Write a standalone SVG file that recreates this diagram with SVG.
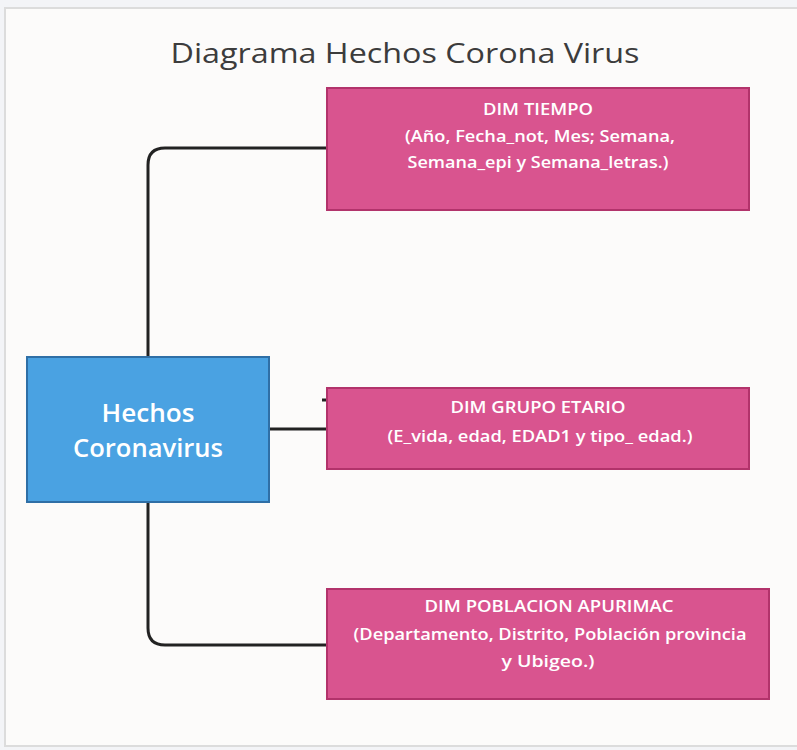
<svg xmlns="http://www.w3.org/2000/svg" width="797" height="750" viewBox="0 0 797 750">
<style>
.dim{fill:#d9548f;stroke:#b2336b;stroke-width:2}
.fact{fill:#4aa2e2;stroke:#2f6fa6;stroke-width:2}
.t{font-family:"Open Sans","Noto Sans",sans-serif;fill:#fff;text-anchor:middle;font-weight:600}
.s{font-size:17px}
.c{fill:none;stroke:#222;stroke-width:3}
</style>
<rect x="0" y="0" width="797" height="750" fill="#f3f4f7"/>
<rect x="5" y="8" width="800" height="738" fill="#fcfbfa" stroke="#dcdcdc" stroke-width="2"/>
<text x="405" y="63" font-family="'Open Sans','Noto Sans',sans-serif" font-size="28" fill="#3c3c3c" text-anchor="middle" textLength="469" lengthAdjust="spacingAndGlyphs">Diagrama Hechos Corona Virus</text>
<g id="connectors">
<path class="c" d="M148,356 V165 Q148,148 165,148 H327"/>
<path class="c" d="M269,429 H327"/>
<path class="c" d="M322,400 H327" stroke-width="2"/>
<path class="c" d="M148,502 V628 Q148,645 165,645 H327"/>
</g>
<g id="hechos">
<rect class="fact" x="27" y="357" width="242" height="145"/>
<text class="t" x="148" y="422" font-size="26" textLength="93" lengthAdjust="spacingAndGlyphs">Hechos</text>
<text class="t" x="148" y="457" font-size="26" textLength="150" lengthAdjust="spacingAndGlyphs">Coronavirus</text>
</g>
<g id="dim-tiempo">
<rect class="dim" x="327" y="88" width="422" height="122"/>
<text class="t s" x="538" y="115" textLength="110" lengthAdjust="spacingAndGlyphs">DIM TIEMPO</text>
<text class="t s" x="540" y="142" textLength="270" lengthAdjust="spacingAndGlyphs">(Año, Fecha_not, Mes; Semana,</text>
<text class="t s" x="538" y="168" textLength="261" lengthAdjust="spacingAndGlyphs">Semana_epi y Semana_letras.)</text>
</g>
<g id="dim-grupo">
<rect class="dim" x="327" y="388" width="422" height="81"/>
<text class="t s" x="538" y="413" textLength="175" lengthAdjust="spacingAndGlyphs">DIM GRUPO ETARIO</text>
<text class="t s" x="540" y="442" textLength="305" lengthAdjust="spacingAndGlyphs">(E_vida, edad, EDAD1 y tipo_ edad.)</text>
</g>
<g id="dim-poblacion">
<rect class="dim" x="327" y="589" width="442" height="110"/>
<text class="t s" x="549" y="612" textLength="249" lengthAdjust="spacingAndGlyphs">DIM POBLACION APURIMAC</text>
<text class="t s" x="550" y="640" textLength="393" lengthAdjust="spacingAndGlyphs">(Departamento, Distrito, Población provincia</text>
<text class="t s" x="548" y="667" textLength="93" lengthAdjust="spacingAndGlyphs">y Ubigeo.)</text>
</g>
</svg>
